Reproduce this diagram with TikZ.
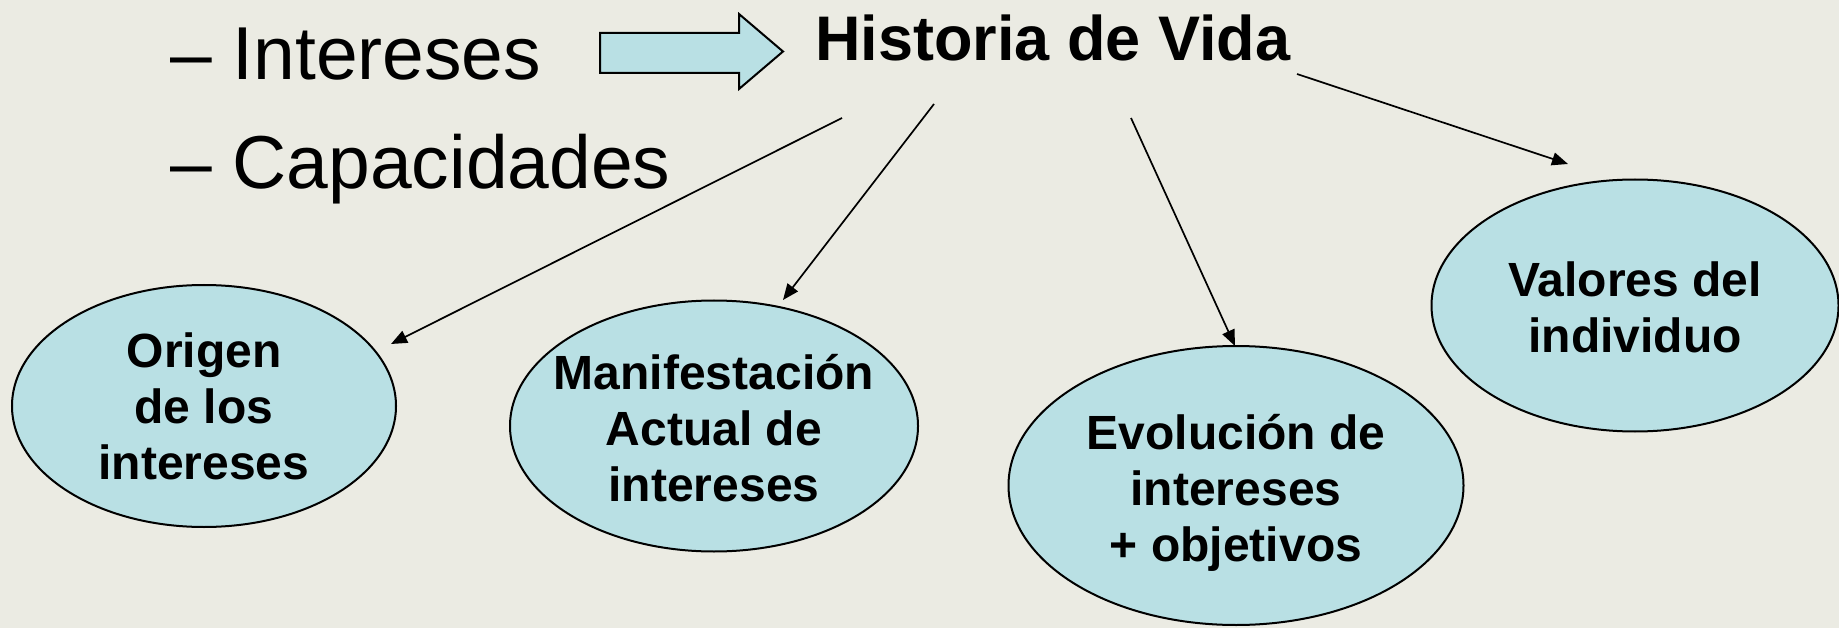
\documentclass[tikz,border=0pt]{standalone}
\usepackage{fontspec}
\setmainfont{Liberation Sans}
\usetikzlibrary{shapes.geometric,arrows.meta}
\definecolor{bg}{RGB}{235,235,227}
\definecolor{bluefill}{RGB}{185,224,228}
\begin{document}
\begin{tikzpicture}[x=1pt,y=-1pt,
  oval/.style={ellipse,draw=black,line width=2pt,fill=bluefill,inner sep=0pt},
  lbl/.style={align=center,inner sep=0pt,font=\fontsize{48}{56}\selectfont\bfseries},
  conn/.style={line width=1.7pt,-{Triangle[length=16pt,width=13pt]}},
  bullet/.style={anchor=base west,inner sep=0pt,font=\fontsize{75}{90}\selectfont}]
\fill[bg] (0,0) rectangle (1839,628);
\useasboundingbox (0,0) rectangle (1839,628);
% left bullet text
\node[bullet] (int) at (170,80) {– Intereses};
\node[bullet] (cap) at (170,189) {– Capacidades};
% block arrow
\draw[line width=2pt,fill=bluefill,line join=miter]
  (600,33) -- (739,33) -- (739,14) -- (783,51.5) -- (739,89) -- (739,73) -- (600,73) -- cycle;
% title
\node[anchor=base west,inner sep=0pt,font=\fontsize{63}{75}\selectfont\bfseries] (hist) at (815,61) {Historia de Vida};
% ellipses
\node[oval,minimum width=384pt,minimum height=242pt] (orig) at (204,406) {};
\node[lbl] at (orig) {Origen\\de los\\intereses};
\node[oval,minimum width=408pt,minimum height=251pt] (man) at (714,426) {};
\node[lbl] at ([yshift=-2pt]man.center) {Manifestación\\Actual de\\intereses};
\node[oval,minimum width=455pt,minimum height=279pt] (evo) at (1236,485.5) {};
\node[lbl] at ([yshift=-7pt]evo.center) {Evolución de\\intereses\\+ objetivos};
\node[oval,minimum width=407pt,minimum height=252pt] (val) at (1635,305.5) {};
\node[lbl] at ([yshift=-2pt]val.center) {Valores del\\individuo};
% connectors
\coordinate (s1) at (842,118); \coordinate (e1) at (391,344);
\coordinate (s2) at (934,104); \coordinate (e2) at (783,300);
\coordinate (s3) at (1131,118); \coordinate (e3) at (1235,346);
\coordinate (s4) at (1297,74); \coordinate (e4) at (1568,164);
\draw[conn] (s1) -- (e1);
\draw[conn] (s2) -- (e2);
\draw[conn] (s3) -- (e3);
\draw[conn] (s4) -- (e4);
\end{tikzpicture}
\end{document}
